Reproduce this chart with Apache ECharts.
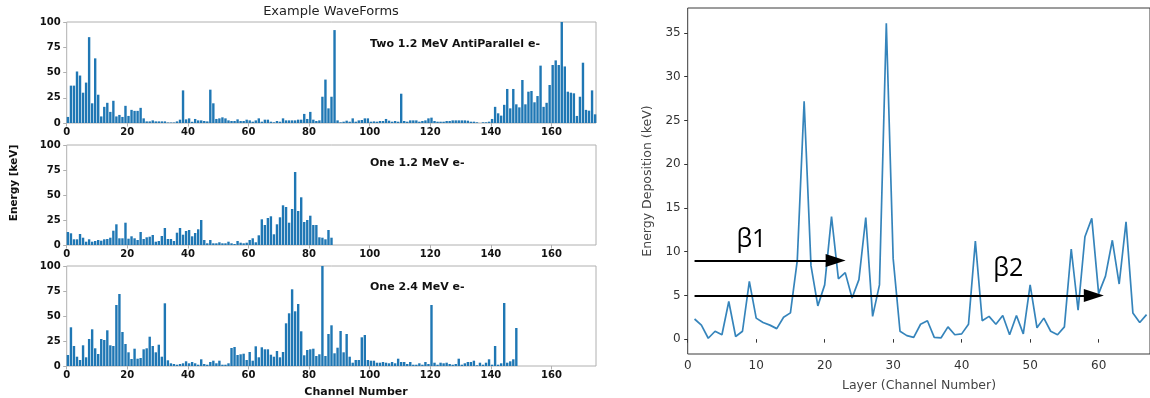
<!DOCTYPE html>
<html><head><meta charset="utf-8">
<script src="https://cdn.jsdelivr.net/npm/echarts@6/dist/echarts.min.js"></script>
<style>html,body{margin:0;padding:0;background:#fff}#c{width:1150px;height:398px}</style>
</head><body><div id="c"></div>
<script>
// ---------- data ----------
const channelTicks = [0, 20, 40, 60, 80, 100, 120, 140, 160];
const energyTicks = [0, 25, 50, 75, 100];
const panelTitles = ['Two 1.2 MeV AntiParallel e-', 'One 1.2 MeV e-', 'One 2.4 MeV e-'];

const twoAntiParallel = [
  6,37,37,51,47,30,40,85,19.5,64,
  28,6.5,16,20,11,22,6.5,8,6,17,
  7,13,12,12,15,4.6,1.6,1.6,2.6,1.6,
  1.6,1.6,1.6,0.5,0.5,0.5,1.6,3.3,32.3,3.6,
  4.6,1.2,4,2.6,2.6,2,1.6,33,19.5,4,
  4.6,5.6,4.6,2.6,2,2,3.6,2,2,3.3,
  2.6,1.3,2.6,4.6,1.3,3.3,3.3,1.3,0.7,2,
  1.3,4.6,2.6,2.6,2.6,2.6,3.3,3.3,9,4,
  11,3.3,2,2.6,26,43,14.5,26,92,2.6,
  0.7,1.3,2.3,1.3,4.6,1.3,2.6,3,4.6,4.6,
  1.3,1.6,1.3,2,2,4,2.3,1.3,2,1.3,
  29,2,1.3,2.6,2.6,2.6,1.3,2,2.6,4.6,
  5.3,2,1.3,1.3,1.3,2,2,2.6,2.6,2.6,
  2.6,2.6,2.3,1.3,1.3,0.7,0,0.7,0.7,1.3,
  4,16,9.6,7.3,18,33.7,14.5,33.7,18.5,15.5,
  42.6,18.5,31,31.7,20.5,26.7,56.8,16,20,37.6,
  57.4,62,57.4,100,56,31,30,29.4,7,26,
  59.7,13,12.2,32.3,8.6
];
const one12MeV = [
  13,11.7,5.7,5.7,11,7.3,3.3,5.7,3.3,4,
  5,4.3,5.7,6,7.3,14.3,20.7,6.7,6.7,22.3,
  6.3,8.7,6.7,5,13,6,7.7,8.3,10,3.3,
  4,9,17,6,6,4,12.3,17,10.3,14,
  15,8.7,12,15.7,25,5,1.7,5,1.7,1.7,
  2.7,1.7,1.7,3.3,1.7,1,4,2.3,1.7,2.3,
  5,6.7,2.7,9.7,25.7,20,27,28.7,10.7,20.7,
  27.7,39.7,38,22.3,36,73,34,47.7,23,25,
  29.3,20,20,7.7,7.3,5.7,15,7.3
];
const one24MeV = [
  11,38.7,20,9.3,6,20.7,8.7,27,36.7,17.7,
  12,27,26,35.7,20.7,20,61,72,34,22,
  13.7,7,17.3,7.3,8,16.7,17.7,29.3,20,13.7,
  21.3,9.3,62.7,5.7,2.7,2,1.3,2,2.7,4.7,
  2.7,4,2.7,1.3,6.7,2,1.3,4,5.3,2.7,
  5.3,1.3,1.3,2.7,18,19,11,11.7,12.3,6,
  14,5.3,19.7,8.7,18.7,16.7,16.7,11.3,9.3,15,
  8.7,14,42.7,52.7,76.7,54.7,62,34.7,10.7,16,
  16.7,17.3,10,11.7,100,10,32,40.7,12.7,18.3,
  35,13.7,32,9.3,3.3,6,6,28.7,31,6,
  5.3,5.3,3.3,3.3,4,3.3,2.7,4,2.7,7.3,
  4,4,2,4,1.3,1.3,2.7,1.3,4,2,
  61,3.3,1.3,3.3,2.7,3.3,2,1.3,2,7.3,
  1.3,2.7,4,4,5.3,0.7,3.3,1.3,3.3,6.7,
  1.3,20,1.3,2.7,63,3.3,4.7,6.7,38
];

const layerTicks = [0, 10, 20, 30, 40, 50, 60];
const depositionTicks = [0, 5, 10, 15, 20, 25, 30, 35];
const layers = [1,2,3,4,5,6,7,8,9,10,11,12,13,14,15,16,17,18,19,20,21,22,23,24,25,26,27,28,29,30,
  31,32,33,34,35,36,37,38,39,40,41,42,43,44,45,46,47,48,49,50,51,52,53,54,55,56,57,58,59,60,
  61,62,63,64,65,66,67];
const deposition = [2.3,1.6,0.1,0.9,0.5,4.3,0.3,0.9,6.6,2.4,
  1.9,1.6,1.2,2.5,3.0,9.0,27.2,8.4,3.8,6.2,
  14.0,6.9,7.6,4.7,6.8,13.9,2.6,6.2,36.1,9.2,
  0.9,0.4,0.2,1.7,2.1,0.2,0.15,1.4,0.5,0.6,
  1.7,11.2,2.1,2.6,1.7,2.7,0.5,2.7,0.6,6.2,
  1.3,2.4,0.9,0.5,1.4,10.3,3.3,11.7,13.8,5.2,
  7.2,11.3,6.3,13.4,3.0,1.9,2.8];
const arrowRows = [{ y: 9, from: 1, to: 21.6 }, { y: 5, from: 1, to: 59.3 }];
const betaLabels = [{ text: 'β1', x: 9.3, y: 11.3 }, { text: 'β2', x: 46.8, y: 8.0 }];

// ---------- chart ----------
const chart = echarts.init(document.getElementById('c'), null, { renderer: 'canvas' });
const panelData = [twoAntiParallel, one12MeV, one24MeV];
const panelTops = [22, 145, 266];
const panelHeights = [101, 100, 100];
const LEFT = 66.7, WIDTH = 529.3;
const BAR_EDGE_ALIGN = 0.4; // bars drawn from channel i to i+0.8 (edge aligned)
const FONT = 'DejaVu Sans';
const frame = '#b0b0b0';

const grids = [], xAxes = [], yAxes = [], series = [];
panelData.forEach((arr, k) => {
  grids.push({ left: LEFT, top: panelTops[k], width: WIDTH, height: panelHeights[k],
    show: true, borderColor: frame, borderWidth: 1, backgroundColor: 'transparent' });
  xAxes.push({ type: 'value', gridIndex: k, min: 0, max: 174.7,
    axisLine: { show: false },
    axisTick: { show: true, customValues: channelTicks, length: 3.5, lineStyle: { color: frame } },
    axisLabel: { customValues: channelTicks, fontFamily: FONT, fontWeight: 'bold', fontSize: 10, color: '#111', margin: 4 },
    splitLine: { show: false } });
  yAxes.push({ type: 'value', gridIndex: k, min: 0, max: 100,
    axisLine: { show: false },
    axisTick: { show: true, customValues: energyTicks, length: 3.5, lineStyle: { color: frame } },
    axisLabel: { customValues: energyTicks, fontFamily: FONT, fontWeight: 'bold', fontSize: 10, color: '#111', margin: 6 },
    splitLine: { show: false } });
  series.push({ type: 'bar', xAxisIndex: k, yAxisIndex: k, barWidth: 2.4, clip: true,
    itemStyle: { color: '#1f77b4' }, silent: true,
    data: arr.map((v, i) => [i + BAR_EDGE_ALIGN, v]) });
});

// right-hand line chart
grids.push({ left: 687.7, top: 8, width: 467.3, height: 346, show: true,
  borderColor: '#3a3a3a', borderWidth: 1, backgroundColor: 'transparent' });
xAxes.push({ type: 'value', gridIndex: 3, min: 0, max: 67.5,
  axisLine: { show: false },
  axisTick: { show: true, customValues: layerTicks, length: 3.5, lineStyle: { color: '#333' } },
  axisLabel: { customValues: layerTicks, fontFamily: FONT, fontSize: 12, color: '#333', margin: 6 },
  splitLine: { show: false } });
yAxes.push({ type: 'value', gridIndex: 3, min: -1.7, max: 37.85,
  axisLine: { show: false },
  axisTick: { show: true, customValues: depositionTicks, length: 3.5, lineStyle: { color: '#333' } },
  axisLabel: { customValues: depositionTicks, fontFamily: FONT, fontSize: 12, color: '#333', margin: 7 },
  splitLine: { show: false } });
series.push({ type: 'line', xAxisIndex: 3, yAxisIndex: 3, symbol: 'none', silent: true,
  lineStyle: { color: '#1f77b4', width: 1.7, opacity: 0.9 },
  data: layers.map((x, i) => [x, deposition[i]]),
  markLine: { silent: true, symbol: ['none', 'triangle'], symbolSize: [13, 20],
    lineStyle: { color: '#000', width: 2, type: 'solid' }, label: { show: false },
    data: arrowRows.map(a => [{ coord: [a.from, a.y] }, { coord: [a.to, a.y] }]) },
  markPoint: { silent: true, symbol: 'circle', symbolSize: 0,
    label: { show: true, position: 'inside', fontFamily: 'Open Sans', fontSize: 25, color: '#000', formatter: p => p.name },
    data: betaLabels.map(b => ({ name: b.text, coord: [b.x, b.y] })) }
});

const graphic = [
  { type: 'text', x: 331, y: 12, style: { text: 'Example WaveForms', font: '13px "DejaVu Sans"', fill: '#222', align: 'center', verticalAlign: 'middle' } },
  { type: 'text', x: 356, y: 392, style: { text: 'Channel Number', font: 'bold 11px "DejaVu Sans"', fill: '#111', align: 'center', verticalAlign: 'middle' } },
  { type: 'text', x: 14, y: 183, rotation: Math.PI / 2, style: { text: 'Energy [keV]', font: 'bold 10.5px "DejaVu Sans"', fill: '#111', align: 'center', verticalAlign: 'middle' } },
  { type: 'text', x: 919, y: 386, style: { text: 'Layer (Channel Number)', font: '12.5px "DejaVu Sans"', fill: '#444', align: 'center', verticalAlign: 'middle' } },
  { type: 'text', x: 648, y: 181, rotation: Math.PI / 2, style: { text: 'Energy Deposition (keV)', font: '12.5px "DejaVu Sans"', fill: '#444', align: 'center', verticalAlign: 'middle' } }
];
const titleYs = [44, 163, 287];
panelTitles.forEach((t, k) => graphic.push({ type: 'text', x: 370, y: titleYs[k],
  style: { text: t, font: 'bold 11px "DejaVu Sans"', fill: '#111', align: 'left', verticalAlign: 'middle' } }));

chart.setOption({ animation: false, backgroundColor: '#fff', grid: grids, xAxis: xAxes, yAxis: yAxes, series, graphic });
</script></body></html>
